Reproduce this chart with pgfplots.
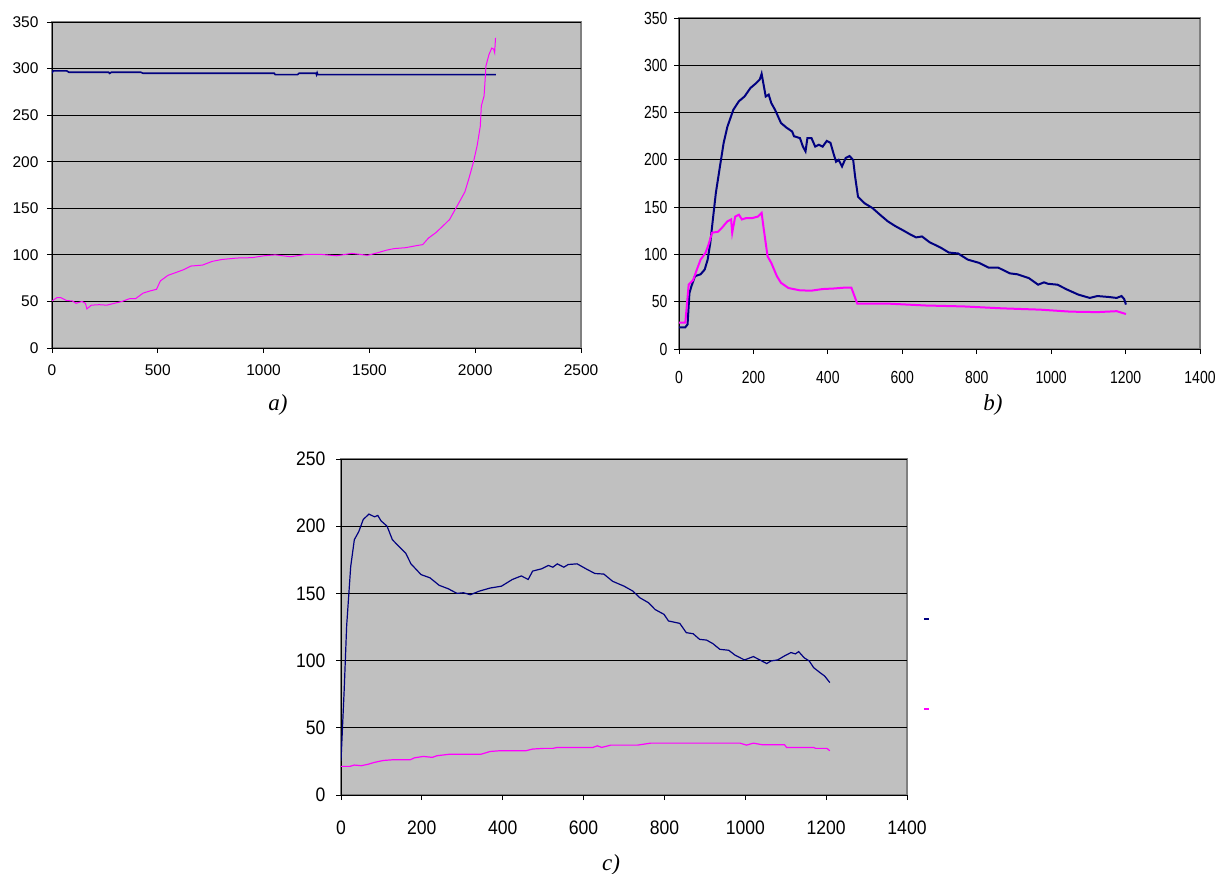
\documentclass[border=0pt]{standalone}
\usepackage{pgfplots}
\pgfplotsset{compat=1.18}
\usepackage{fontspec}
\setmainfont{Liberation Sans}
\newfontfamily\tnr{Liberation Serif}
\newfontfamily\sansb[FakeStretch=0.8]{Liberation Sans}
\newfontfamily\sansc[FakeStretch=0.9]{Liberation Sans}
\definecolor{bgc}{HTML}{C0C0C0}
\definecolor{bordc}{HTML}{808080}
\definecolor{navyc}{HTML}{000080}
\definecolor{magc}{HTML}{FF00FF}
\pgfplotsset{
  myax/.style={
    scale only axis, anchor=south west,
    axis x line=bottom, axis y line=left,
    axis line style={-, black, line width=1bp},
    axis background/.style={fill=bgc, draw=bordc, line width=1.3bp},
    ymajorgrids, grid style={black, line width=0.9bp},
    tick align=outside, major tick length=5bp,
    tick style={black, line width=0.9bp},
    /pgf/number format/assume math mode=true,
    /pgf/number format/1000 sep={},
  }
}
\begin{document}
\begin{tikzpicture}
\useasboundingbox (0,0) rectangle (1217bp,-874bp);
% ---------------- a)
\begin{axis}[myax, at={(52bp,-348bp)}, width=529bp, height=326bp,
  ticklabel style={font=\fontsize{15.5bp}{18bp}\selectfont},
  xticklabel style={yshift=-8bp}, yticklabel style={xshift=-5bp},
  xmin=0, xmax=2500, ymin=0, ymax=350, xtick={0,500,...,2500}, ytick={0,50,...,350}]
\addplot[navyc, line width=1.6bp] coordinates {
(0,295) (5,297.5) (70,297.5) (80,296) (268,296) (272,294.8) (280,296) (420,296) (430,295)
(1050,295) (1055,293.5) (1160,293.5) (1168,295) (1248,295) (1250,293.5) (1253,295.5) (1256,293.5) (2098,293.5)};
\addplot[magc, line width=1bp] coordinates {
(0,50.5) (23,54) (42,54) (69,51) (96,50.5) (114,48) (141,50) (158,48) (165,42) (186,46) (223,46.5)
(259,46) (295,48) (331,50) (367,53) (395,53) (431,59) (467,61.5) (494,63) (512,72) (548,78)
(585,81) (621,84) (657,88) (711,89) (757,93) (802,95) (874,96.6) (947,97) (1001,99) (1055,100)
(1128,98) (1200,100.5) (1272,100.5) (1345,99) (1417,101.6) (1490,99.5) (1535,102) (1580,105)
(1616,106.7) (1671,107.7) (1725,110) (1752,111) (1779,118) (1815,124) (1852,132) (1879,138)
(1906,149) (1933,160) (1951,167.5) (1969,181) (1991,199) (2009,217) (2024,238) (2029,260)
(2042,270.6) (2051,303) (2065,315) (2078,322) (2087,321) (2092,317) (2096,333)};
\end{axis}
\node[font=\tnr\itshape\fontsize{23bp}{26bp}\selectfont] at (278bp,-405bp) {a)};
% ---------------- b)
\begin{axis}[myax, at={(679bp,-349bp)}, width=521bp, height=331bp,
  ticklabel style={font=\sansb\fontsize{17.5bp}{20bp}\selectfont},
  xticklabel style={yshift=-14bp}, yticklabel style={xshift=-3bp},
  xmin=0, xmax=1400, ymin=0, ymax=350, xtick={0,200,...,1400}, ytick={0,50,...,350}]
\addplot[navyc, line width=2bp] coordinates {
(0,23) (17,23) (23,26) (28,59) (33,66) (43,77) (58,79) (69,84) (77,94.5) (84,112) (91,137)
(99,165) (110,193) (120,218) (130,235) (146,253) (161,262) (176,267) (192,276) (207,281)
(217,285) (222,291) (228,278) (233,267) (241,269) (248,260) (258,253) (274,239) (289,234)
(304,230) (309,225) (325,223) (333,214) (340,209) (345,223) (356,223) (366,214) (376,216)
(386,214) (397,220) (407,218) (415,207) (422,198) (429,200) (438,193) (448,202) (458,204)
(468,200) (473,183) (481,161) (499,154) (520,149) (540,142) (561,135) (581,130) (602,125.5)
(622,121) (637,118) (653,119) (673,113) (704,107) (725,102) (750,101) (776,94.5) (807,91)
(832,86) (858,86) (889,80) (909,79) (940,75) (965,68) (981,70.5) (991,69) (1017,68) (1042,63)
(1073,57.5) (1104,54) (1124,56) (1155,55) (1176,54) (1189,56) (1196,53) (1201,47)};
\addplot[magc, line width=2bp] coordinates {
(0,28) (17,28) (26,68) (38,73) (48,84) (58,94.5) (71,101.5) (79,110) (89,123) (105,124)
(115,128) (130,135) (140,137) (143,123) (151,140) (161,142) (169,137) (181,138.5) (197,138.5)
(212,140) (222,144) (228,126) (238,98) (248,91) (263,77) (274,70) (294,64.5) (325,62)
(356,61.7) (386,63.4) (417,64) (448,65) (463,65) (479,48) (561,48) (663,46) (766,45)
(868,43) (971,41.6) (1052,39.5) (1124,39) (1176,40) (1201,37)};
\end{axis}
\node[font=\tnr\itshape\fontsize{23bp}{26bp}\selectfont] at (993bp,-405bp) {b)};
% ---------------- c)
\begin{axis}[myax, at={(341bp,-795bp)}, width=566bp, height=336bp,
  ticklabel style={font=\sansc\fontsize{19.5bp}{22bp}\selectfont},
  xticklabel style={yshift=-17bp}, yticklabel style={xshift=-7bp},
  xmin=0, xmax=1400, ymin=0, ymax=250, xtick={0,200,...,1400}, ytick={0,50,...,250},
  legend style={at={(rel axis cs:1.035,0.39)}, anchor=center, draw=none, fill=none,
    row sep=88bp, inner sep=0pt, nodes={inner sep=0pt}},
  legend image code/.code={\draw[#1, line width=2.2bp] (0bp,0bp) -- (5bp,0bp);}]
\addplot[navyc, line width=1.2bp] coordinates {
(0,25.5) (8,79) (14,126) (19,148) (24,170) (33,190) (44,196) (55,205) (69,209) (83,207)
(91,208) (99,204) (114,200) (127,190) (143,185) (160,180) (173,172) (198,164) (220,161.6)
(243,156) (265,153.5) (287,150) (303,150.5) (320,149) (342,151.7) (369,154) (397,155.4)
(424,160.4) (446,163) (463,160.4) (474,166.6) (496,168.3) (513,170.8) (524,169.5) (535,172)
(551,169.5) (562,171.5) (584,172) (606,168.3) (628,164.8) (650,164.4) (672,159) (700,155.4)
(722,151.7) (739,146.8) (761,143) (777,138) (799,134.4) (810,129.5) (838,127.7) (854,120.8)
(871,120) (887,115.8) (904,115.3) (920,112.6) (937,108.4) (959,107.7) (975,104) (998,100.5)
(1020,103) (1036,100.5) (1053,97.8) (1064,99.8) (1080,100.5) (1097,103.5) (1113,106)
(1124,105) (1132,106.7) (1146,102) (1158,99.8) (1169,94.8) (1185,91) (1196,88.6) (1209,83.7)};
\addlegendentry{}
\addplot[magc, line width=1.2bp] coordinates {
(0,21.3) (22,21.3) (33,22.3) (50,21.8) (66,22.8) (83,24.3) (105,25.7) (127,26.2) (171,26.2)
(182,27.7) (204,28.7) (226,28) (237,29.2) (270,30.4) (347,30.4) (369,32.4) (391,32.9)
(457,32.9) (474,34.2) (502,34.7) (524,34.7) (535,35.4) (623,35.4) (634,36.6) (645,35.4)
(667,37.1) (733,37.1) (755,38.1) (766,38.6) (987,38.6) (1003,37.1) (1020,38.6) (1042,37.4)
(1097,37.4) (1102,35.4) (1169,35.4) (1174,34.7) (1202,34.7) (1209,32.9)};
\addlegendentry{}
\end{axis}
\node[font=\tnr\itshape\fontsize{23bp}{26bp}\selectfont] at (611bp,-865bp) {c)};
\end{tikzpicture}
\end{document}
